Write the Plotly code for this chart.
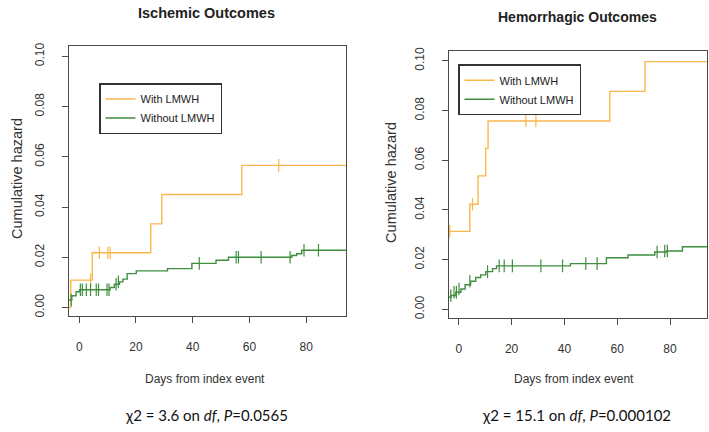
import plotly.graph_objects as go

# ---- Ischemic outcomes (left panel) ----
isc_with_t = [-3.6, -3.0, 4.6, 25.2, 29.1, 57.3, 94]
isc_with_h = [0.0, 0.0109, 0.0218, 0.0333, 0.0450, 0.0566, 0.0566]
isc_with_cens_t = [4.0, 7.1, 10.1, 10.9, 70.3]
isc_with_cens_h = [0.0109, 0.0218, 0.0218, 0.0218, 0.0566]

isc_wo_t = [-3.6, -2.6, -1.1, 0.1, 10.9, 12.4, 14.2, 15.4, 16.9, 20.1, 31.1, 39.7,
            48.2, 52.6, 74.9, 76.6, 78.4, 94]
isc_wo_h = [0.0030, 0.0047, 0.0063, 0.0071, 0.0080, 0.0093, 0.0102, 0.0113, 0.0135,
            0.0146, 0.0155, 0.0176, 0.0188, 0.0200, 0.0207, 0.0214, 0.0228, 0.0228]
isc_wo_cens_t = [-2.8, 0.4, 1.1, 2.5, 4.0, 6.0, 6.8, 9.8, 10.5, 13.0, 13.8,
                 42.3, 55.3, 56.1, 64.1, 74.3, 79.2, 84.3]
isc_wo_cens_h = [0.0030, 0.0071, 0.0071, 0.0071, 0.0071, 0.0071, 0.0071, 0.0071, 0.0071,
                 0.0093, 0.0102, 0.0176, 0.0200, 0.0200, 0.0200, 0.0200, 0.0228, 0.0228]

# ---- Hemorrhagic outcomes (right panel) ----
hem_with_t = [-3.7, 4.2, 7.3, 10.2, 11.1, 57.2, 70.5, 94]
hem_with_h = [0.0314, 0.0423, 0.0537, 0.0648, 0.0758, 0.0877, 0.0997, 0.0997]
hem_with_cens_t = [-3.4, 5.2, 25.4, 29.2]
hem_with_cens_h = [0.0314, 0.0423, 0.0758, 0.0758]

hem_wo_t = [-3.7, -3.0, -1.1, 0.8, 2.4, 4.5, 6.4, 8.3, 10.2, 12.8, 14.3, 42.3,
            55.9, 64.1, 74.2, 78.7, 84.7, 94]
hem_wo_h = [0.0049, 0.0056, 0.0069, 0.0082, 0.0099, 0.0113, 0.0128, 0.0139, 0.0152,
            0.0164, 0.0175, 0.0184, 0.0208, 0.0219, 0.0231, 0.0235, 0.0252, 0.0252]
hem_wo_cens_t = [-3.0, -1.8, -0.9, 0.1, 4.2, 10.9, 15.3, 17.2, 20.3, 31.1, 39.3,
                 48.1, 52.4, 75.1, 78.0, 79.0]
hem_wo_cens_h = [0.0056, 0.0069, 0.0069, 0.0082, 0.0113, 0.0152, 0.0175, 0.0175, 0.0175,
                 0.0175, 0.0175, 0.0184, 0.0184, 0.0231, 0.0235, 0.0235]

y_ticks = [0.0, 0.02, 0.04, 0.06, 0.08, 0.10]
x_ticks = [0, 20, 40, 60, 80]

ORANGE = "#F9B74C"
GREEN = "#3E8E3E"
AXIS = "#4a4a4a"
W, H = 709, 432


def px_x(p):
    return p / W


def px_y(p):
    return 1 - p / H


fig = go.Figure()


def add_panel(xa, ya, leg, series):
    for t, h, ct, ch, color, name in series:
        fig.add_trace(go.Scatter(x=t, y=h, mode="lines", line=dict(color=color, width=1.4, shape="hv"),
                                 name=name, legend=leg, xaxis=xa, yaxis=ya, showlegend=True))
        fig.add_trace(go.Scatter(x=ct, y=ch, mode="markers", xaxis=xa, yaxis=ya, showlegend=False,
                                 marker=dict(symbol="line-ns-open", size=9, color=color,
                                             line=dict(color=color, width=1.2))))


add_panel("x", "y", "legend", [
    (isc_with_t, isc_with_h, isc_with_cens_t, isc_with_cens_h, ORANGE, "With LMWH"),
    (isc_wo_t, isc_wo_h, isc_wo_cens_t, isc_wo_cens_h, GREEN, "Without LMWH"),
])
add_panel("x2", "y2", "legend2", [
    (hem_with_t, hem_with_h, hem_with_cens_t, hem_with_cens_h, ORANGE, "With LMWH"),
    (hem_wo_t, hem_wo_h, hem_wo_cens_t, hem_wo_cens_h, GREEN, "Without LMWH"),
])

xax = dict(tickvals=x_ticks, ticks="outside", ticklen=6, tickcolor=AXIS, showline=True, mirror=True,
           linecolor=AXIS, linewidth=1.3, showgrid=False, zeroline=False, ticklabelstandoff=13,
           tickfont=dict(family="Liberation Sans", size=12, color="#333"))
yax = dict(tickvals=y_ticks, tickformat=".2f", ticks="outside", ticklen=6, tickcolor=AXIS, showline=True,
           mirror=True, linecolor=AXIS, linewidth=1.3, showgrid=False, zeroline=False, tickangle=-90,
           ticklabelstandoff=13, tickfont=dict(family="Liberation Sans", size=12, color="#333"))

leg_style = dict(xanchor="left", yanchor="top", bgcolor="white", bordercolor="#333", borderwidth=1.5,
                 font=dict(family="Liberation Sans", size=11, color="#222"), tracegroupgap=0)

fig.update_layout(
    width=W, height=H, margin=dict(l=0, r=0, t=0, b=0),
    plot_bgcolor="white", paper_bgcolor="white",
    xaxis=dict(domain=[px_x(69), px_x(346)], range=[-3.6, 94], anchor="y", **xax),
    yaxis=dict(domain=[px_y(316), px_y(42)], range=[-0.0035, 0.1043], anchor="x", **yax),
    xaxis2=dict(domain=[px_x(449), px_x(707)], range=[-3.7, 94], anchor="y2", **xax),
    yaxis2=dict(domain=[px_y(318), px_y(47.7)], range=[-0.0036, 0.1039], anchor="x2", **yax),
    legend=dict(x=px_x(99), y=px_y(80), **leg_style),
    legend2=dict(x=px_x(458), y=px_y(61), **leg_style),
    showlegend=True,
)

texts = [
    ("<b>Ischemic Outcomes</b>", 206, 9, 0, dict(family="Liberation Sans", size=14.5, color="#222")),
    ("<b>Hemorrhagic Outcomes</b>", 577, 13, 0, dict(family="Liberation Sans", size=14, color="#222")),
    ("Cumulative hazard", 17, 177, -90, dict(family="Liberation Sans", size=14.5, color="#333")),
    ("Cumulative hazard", 391, 181, -90, dict(family="Liberation Sans", size=14.5, color="#333")),
    ("Days from index event", 205, 379, 0, dict(family="Liberation Sans", size=12, color="#333")),
    ("Days from index event", 574, 379, 0, dict(family="Liberation Sans", size=12, color="#333")),
    ("χ2 = 3.6 on <i>df</i>, <i>P</i>=0.0565", 206, 416, 0, dict(family="Lato", size=15, color="#111")),
    ("χ2 = 15.1 on <i>df</i>, <i>P</i>=0.000102", 576, 416, 0, dict(family="Lato", size=15, color="#111")),
]
for txt, px, py, ang, font in texts:
    fig.add_annotation(text=txt, x=px_x(px), y=px_y(py), xref="paper", yref="paper", showarrow=False,
                       xanchor="center", yanchor="middle", textangle=ang, font=font)

# drop the browser's default body margin so the figure sits at the page origin
fig.write_html("out.html", config={"displayModeBar": False},
               post_script="document.body.style.margin='0';")
